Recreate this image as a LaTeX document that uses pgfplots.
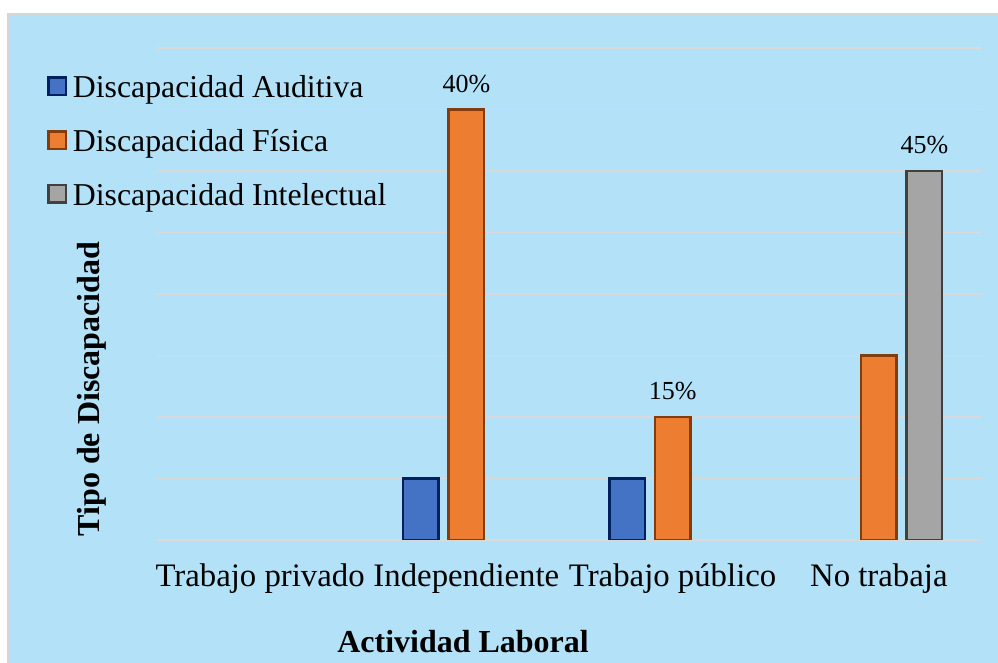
\documentclass[border=0pt]{standalone}
\usepackage{pgfplots}
\pgfplotsset{compat=1.18}
\usepackage{fontspec}
\setmainfont{Liberation Serif}
\definecolor{bgblue}{RGB}{179,226,248}
\definecolor{bordergray}{RGB}{214,214,214}
\definecolor{gridgray}{RGB}{217,217,217}
\definecolor{audfill}{HTML}{4472C4}
\definecolor{auddraw}{HTML}{002060}
\definecolor{fisfill}{HTML}{ED7D31}
\definecolor{fisdraw}{HTML}{843C0C}
\definecolor{intfill}{HTML}{A5A5A5}
\definecolor{intdraw}{HTML}{404040}
\begin{document}
\begin{tikzpicture}
\path[use as bounding box] (0,0) rectangle (499pt,331.5pt);
\fill[white] (0,0) rectangle (499pt,331.5pt);
\fill[bgblue] (4pt,0) rectangle (499pt,324.5pt);
\draw[bordergray, line width=0.8pt] (4pt,0) -- (4pt,324.5pt) -- (499pt,324.5pt);
\begin{axis}[
  at={(78.5pt,61.5pt)}, anchor=south west,
  scale only axis, width=412.5pt, height=246pt,
  xmin=-0.5, xmax=3.5, ymin=0, ymax=8,
  axis line style={draw=none},
  major tick length=0pt,
  ybar, bar width=17.8pt,
  xtick={0,1,2,3},
  xticklabels={Trabajo privado, Independiente, Trabajo público, No trabaja},
  ytick={0,1,...,8}, yticklabels={},
  ymajorgrids, grid style={gridgray, line width=0.75pt},
  xticklabel style={font=\fontsize{16.4}{19}\selectfont, anchor=base, yshift=-23.5pt},
  xlabel={Actividad Laboral},
  xlabel style={at={(axis description cs:0.371,0)}, anchor=base, yshift=-56.5pt,
    font=\bfseries\fontsize{16}{19}\selectfont},
  ylabel={Tipo de Discapacidad},
  ylabel style={at={(axis description cs:-0.0788,0.307)}, anchor=center,
    font=\bfseries\fontsize{16}{19}\selectfont},
  legend style={at={(axis description cs:-0.1333,0.945)}, anchor=north west,
    draw=none, fill=none, inner sep=0pt, font=\fontsize{15.9}{19}\selectfont,
    row sep=14.4pt, column sep=3pt, nodes={inner sep=0pt}},
  legend cell align=left,
  legend image code/.code={\draw[#1, line width=1.1pt] (0.55pt,-3.4pt) rectangle (9.2pt,5.2pt);},
  nodes near coords style={font=\fontsize{13}{15}\selectfont, anchor=south, inner sep=0pt, yshift=8.2pt, text=black},
]
\addplot[fill=audfill, draw=auddraw, line width=1.2pt, bar shift=-22.75pt]
  coordinates {(1,1) (2,1)};
\addlegendentry{Discapacidad Auditiva}
\addplot[fill=fisfill, draw=fisdraw, line width=1.2pt, bar shift=0pt]
  coordinates {(1,7) (2,2) (3,3)};
\addlegendentry{Discapacidad Física}
\addplot[fill=intfill, draw=intdraw, line width=1.2pt, bar shift=22.75pt,
  nodes near coords, point meta=explicit symbolic]
  coordinates {(3,6) [45\%]};
\addlegendentry{Discapacidad Intelectual}
\addplot[draw=none, fill=none, bar shift=0pt, forget plot,
  nodes near coords, point meta=explicit symbolic]
  coordinates {(1,7) [40\%] (2,2) [15\%]};
\end{axis}
\end{tikzpicture}
\end{document}
